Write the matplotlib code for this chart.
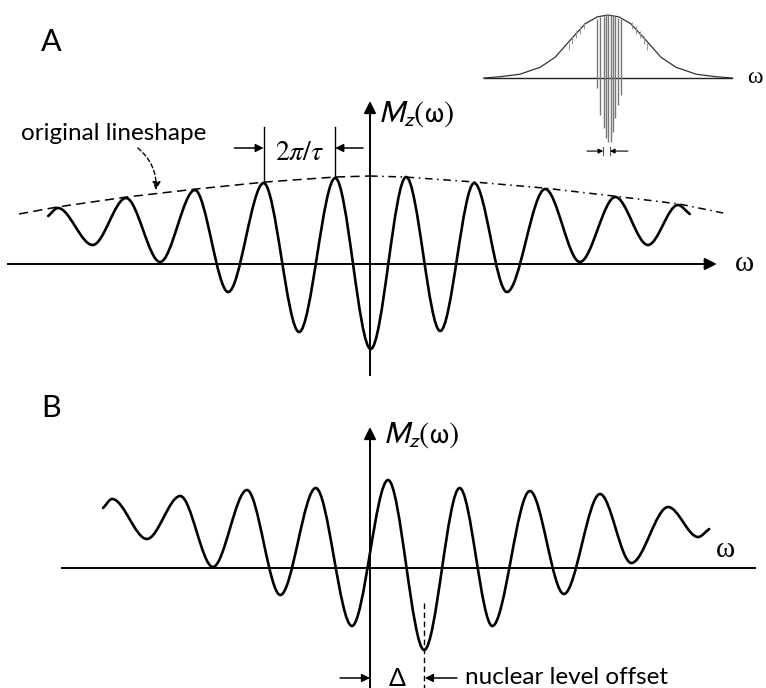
import numpy as np
import matplotlib.pyplot as plt
from matplotlib.path import Path
from matplotlib.patches import PathPatch

# --- panel A: extrema of M_z(omega), omega in units of 2*pi/tau ---
a_omega = [-4.63, -4.49, -3.99, -3.51, -3.02, -2.52, -2.04, -1.53, -1.02, -0.50, 0.01,
           0.52, 1.01, 1.50, 1.97, 2.52, 3.02, 3.53, 4.00, 4.43, 4.60]
a_mz = [0.48, 0.56, 0.19, 0.66, 0.02, 0.74, -0.28, 0.81, -0.68, 0.86, -0.85,
        0.87, -0.67, 0.81, -0.28, 0.75, 0.02, 0.67, 0.19, 0.59, 0.50]

# original lineshape (envelope through the maxima)
env_left_omega = [-5.05, -4.5, -3.5, -2.5, -1.5, -0.5, 0.0]
env_left_mz = [0.50, 0.57, 0.67, 0.75, 0.82, 0.87, 0.88]
env_right_omega = [0.0, 0.5, 1.5, 2.5, 3.5, 4.45, 5.08]
env_right_mz = [0.88, 0.87, 0.82, 0.76, 0.68, 0.60, 0.51]

# --- panel B: shifted pattern ---
b_omega = [-3.84, -3.71, -3.21, -2.73, -2.26, -1.77, -1.29, -0.78, -0.26, 0.26,
           0.78, 1.29, 1.76, 2.30, 2.79, 3.31, 3.76, 4.29, 4.72, 4.88]
b_mz = [0.60, 0.69, 0.29, 0.72, 0.01, 0.78, -0.27, 0.80, -0.58, 0.88,
        -0.82, 0.80, -0.58, 0.77, -0.26, 0.74, 0.05, 0.61, 0.31, 0.39]
offset_delta = 0.78

# --- inset: broad line with the comb in the middle ---
ins_u = [-3.31, -2.88, -2.35, -1.81, -1.41, -1.01, -0.61, -0.29, 0.0,
         0.29, 0.61, 1.01, 1.41, 1.81, 2.35, 2.88, 3.31]
ins_v = [0.0, 0.02, 0.06, 0.17, 0.33, 0.60, 0.86, 0.97, 1.0,
         0.97, 0.86, 0.60, 0.33, 0.17, 0.06, 0.02, 0.0]
spike_u = [-0.30, -0.21, -0.12, -0.05, 0.01, 0.07, 0.12, 0.19, 0.27, 0.34]
spike_top = [0.94, 0.97, 0.99, 1.0, 1.0, 1.0, 0.99, 0.98, 0.96, 0.93]
spike_bottom = [-0.16, -0.59, -0.79, -0.95, -1.02, -1.02, -0.86, -0.63, -0.43, -0.27]
flank_u = [-1.05, -0.95, -0.85, -0.75, -0.65, 0.65, 0.75, 0.85, 0.95, 1.05]
flank_top = [0.56, 0.66, 0.75, 0.82, 0.89, 0.89, 0.82, 0.75, 0.66, 0.56]

SANS = ['Lato', 'DejaVu Sans']
LW = 1.9
AX_LW = 1.4


def wave(ax, w, m):
    # smooth curve through the extrema, flat tangent at every max/min
    verts = [(w[0], m[0])]
    codes = [Path.MOVETO]
    n = len(w)
    for i in range(1, n):
        dx = (w[i] - w[i - 1]) / 3
        if i == 1:
            c1 = (w[0] + dx, m[0] + (m[1] - m[0]) / 3)
        else:
            c1 = (w[i - 1] + dx, m[i - 1])
        if i == n - 1:
            c2 = (w[i] - dx, m[i] - (m[i] - m[i - 1]) / 3)
        else:
            c2 = (w[i] - dx, m[i])
        verts += [c1, c2, (w[i], m[i])]
        codes += [Path.CURVE4] * 3
    ax.add_patch(PathPatch(Path(verts, codes), fill=False, lw=LW,
                           edgecolor='black', capstyle='round', joinstyle='round'))


def arrow(ax, tip, tail, lw=AX_LW, scale=18, **kw):
    ax.annotate('', xy=tip, xytext=tail,
                arrowprops=dict(arrowstyle='-|>', lw=lw, color='black',
                                mutation_scale=scale, shrinkA=0, shrinkB=0, **kw))


fig = plt.figure(figsize=(7.66, 6.88), dpi=100)
xl = (-370 / 69.5, 396 / 69.5)

# ---------------- A ----------------
axA = fig.add_axes([0, 1 - 385 / 688, 1, 385 / 688])
axA.set_xlim(*xl)
axA.set_ylim(-1.21, 2.64)
axA.axis('off')

axA.plot([-5.21, 4.9], [0, 0], color='black', lw=AX_LW)
arrow(axA, (4.99, 0), (4.8, 0))
axA.plot([0, 0], [-1.11, 1.5], color='black', lw=AX_LW)
arrow(axA, (0, 1.63), (0, 1.45))

axA.plot(env_left_omega, env_left_mz, color='black', lw=1.1, ls=(0, (6, 3.5)))
axA.plot(env_right_omega, env_right_mz, color='black', lw=1.1, ls=(0, (5, 3, 1, 3)))
wave(axA, a_omega, a_mz)

axA.text(-4.59, 2.22, 'A', fontsize=22, family=SANS, ha='center', va='center')
axA.text(0.12, 1.50, r'$M_z(\mathrm{\omega})$', fontsize=22, math_fontfamily='stixsans',
         ha='left', va='center')
axA.text(5.25, 0.0, 'ω', fontsize=21, family='Liberation Serif', ha='left', va='center')

axA.text(-5.02, 1.31, 'original lineshape', fontsize=17.5, family=SANS,
         ha='left', va='center')
arrow(axA, (-3.08, 0.74), (-3.34, 1.16), lw=1.0, scale=12, ls=(0, (3, 2)),
      connectionstyle='arc3,rad=-0.25')

# 2*pi/tau spacing marker between two maxima
p1, p2 = a_omega[7], a_omega[9]
axA.plot([p1, p1], [a_mz[7] + 0.02, 1.37], color='black', lw=1.0)
axA.plot([p2, p2], [a_mz[9] + 0.02, 1.37], color='black', lw=1.0)
arrow(axA, (p1, 1.16), (p1 - 0.42, 1.16), lw=1.1, scale=12)
arrow(axA, (p2, 1.16), (p2 + 0.40, 1.16), lw=1.1, scale=12)
axA.text((p1 + p2) / 2, 1.12, r'$2\pi/\tau$', fontsize=20, math_fontfamily='stix',
         ha='center', va='center')

# ---------------- inset ----------------
axI = fig.add_axes([470 / 766, 1 - 165 / 688, 296 / 766, 165 / 688])
axI.set_xlim(-3.68, 4.21)
axI.set_ylim(-1.381, 1.238)
axI.axis('off')
axI.plot([-3.31, 3.31], [0, 0], color='#222222', lw=1.0)
axI.plot(ins_u, ins_v, color='#333333', lw=0.9)
axI.vlines(spike_u, spike_bottom, spike_top, color='#777777', lw=1.0)
axI.vlines(flank_u, [t - 0.12 for t in flank_top], flank_top, color='#999999', lw=0.7)
axI.text(3.72, 0.0, 'ω', fontsize=17, family='Liberation Serif', ha='left', va='center')
axI.plot([spike_u[2] - 0.01] * 2, [-1.22, -1.10], color='#555555', lw=0.8)
axI.plot([spike_u[5] - 0.02] * 2, [-1.22, -1.10], color='#555555', lw=0.8)
arrow(axI, (spike_u[2] - 0.01, -1.16), (-0.56, -1.16), lw=0.8, scale=7)
arrow(axI, (spike_u[5] - 0.02, -1.16), (0.53, -1.16), lw=0.8, scale=7)

# ---------------- B ----------------
axB = fig.add_axes([0, 0, 1, 303 / 688])
axB.set_xlim(*xl)
axB.set_ylim(-1.20, 1.83)
axB.axis('off')

axB.plot([-4.43, 5.54], [0, 0], color='black', lw=AX_LW)
axB.plot([0, 0], [-1.25, 1.25], color='black', lw=AX_LW)
arrow(axB, (0, 1.41), (0, 1.22))
wave(axB, b_omega, b_mz)

axB.text(-4.59, 1.60, 'B', fontsize=22, family=SANS, ha='center', va='center')
axB.text(0.19, 1.33, r'$M_z(\mathrm{\omega})$', fontsize=22, math_fontfamily='stixsans',
         ha='left', va='center')
axB.text(5.11, 0.18, 'ω', fontsize=21, family='Liberation Serif', ha='center', va='center')

# offset of the nuclear level
axB.plot([offset_delta, offset_delta], [-0.35, -1.25], color='black', lw=1.0,
         ls=(0, (4, 2.5)))
arrow(axB, (0, -1.10), (-0.43, -1.10), lw=1.1, scale=12)
arrow(axB, (offset_delta + 0.01, -1.10), (1.25, -1.10), lw=1.1, scale=12)
axB.text(offset_delta / 2, -1.10, 'Δ', fontsize=18, family=SANS, ha='center', va='center')
axB.text(1.37, -1.10, 'nuclear level offset', fontsize=17.5, family=SANS,
         ha='left', va='center')

fig.savefig('out.png', dpi=100)
